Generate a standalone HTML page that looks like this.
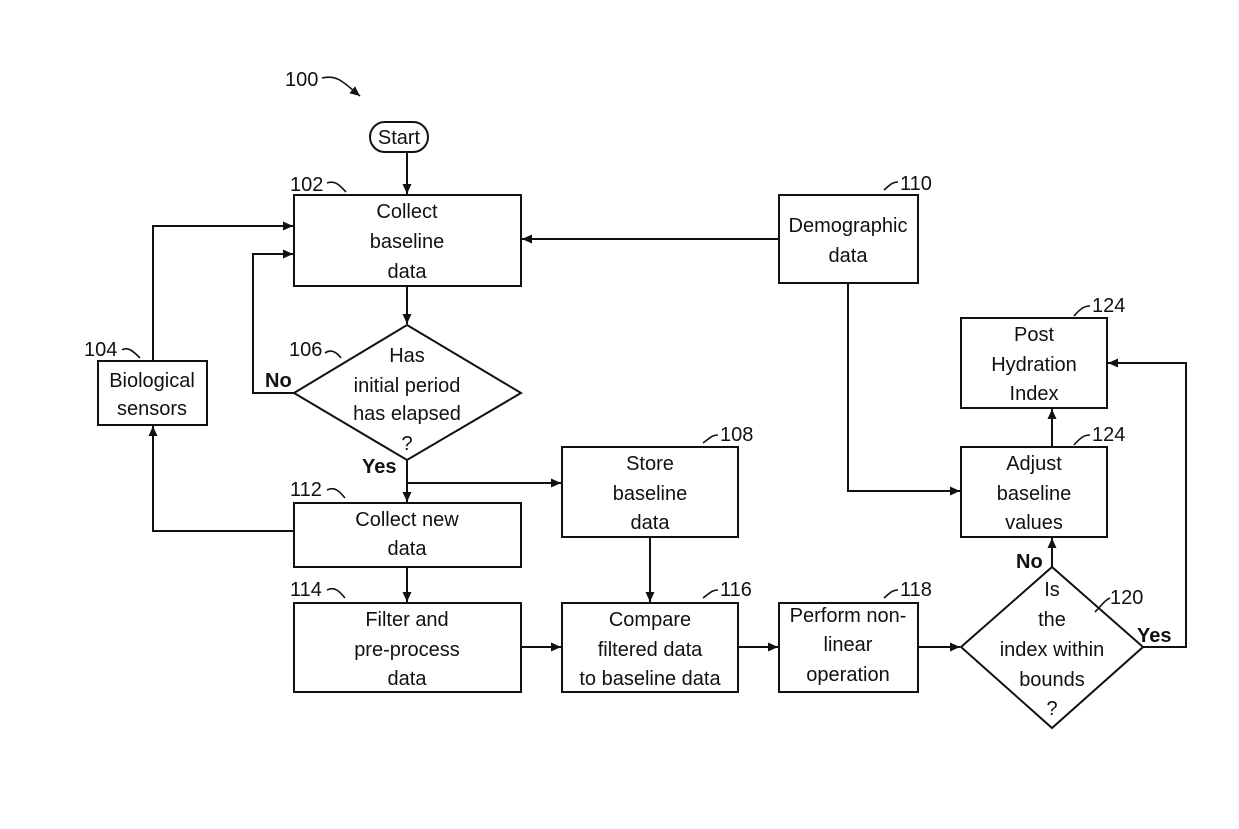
<!DOCTYPE html>
<html><head><meta charset="utf-8"><style>
html,body{margin:0;padding:0;background:#fff;}
svg{display:block;}
text{font-family:"Liberation Sans",Arial,sans-serif;font-size:20px;fill:#111;}
.b{font-weight:bold;}
</style></head><body>
<svg width="1239" height="829" viewBox="0 0 1239 829" xmlns="http://www.w3.org/2000/svg">
<defs>
<marker id="a" markerWidth="12" markerHeight="12" refX="10" refY="5.5" orient="auto" markerUnits="userSpaceOnUse">
<path d="M0,1 L10,5.5 L0,10 Z" fill="#111"/></marker>
</defs>
<g fill="none" stroke="#111" stroke-width="2">
<rect x="370" y="122" width="58" height="30" rx="15"/>
<rect x="294" y="195" width="227" height="91"/>
<rect x="779" y="195" width="139" height="88"/>
<polygon points="407,325 521,393 407,460 294,393"/>
<rect x="98" y="361" width="109" height="64"/>
<rect x="562" y="447" width="176" height="90"/>
<rect x="294" y="503" width="227" height="64"/>
<rect x="294" y="603" width="227" height="89"/>
<rect x="562" y="603" width="176" height="89"/>
<rect x="779" y="603" width="139" height="89"/>
<polygon points="1052,567 1143,647 1052,728 961,647"/>
<rect x="961" y="447" width="146" height="90"/>
<rect x="961" y="318" width="146" height="90"/>
<path d="M407,152 V194" marker-end="url(#a)"/>
<path d="M779,239 H522" marker-end="url(#a)"/>
<path d="M407,286 V324" marker-end="url(#a)"/>
<path d="M294,393 H253 V254 H293" marker-end="url(#a)"/>
<path d="M407,460 V502" marker-end="url(#a)"/>
<path d="M407,483 H561" marker-end="url(#a)"/>
<path d="M294,531 H153 V426" marker-end="url(#a)"/>
<path d="M153,361 V226 H293" marker-end="url(#a)"/>
<path d="M407,567 V602" marker-end="url(#a)"/>
<path d="M521,647 H561" marker-end="url(#a)"/>
<path d="M650,537 V602" marker-end="url(#a)"/>
<path d="M738,647 H778" marker-end="url(#a)"/>
<path d="M918,647 H960" marker-end="url(#a)"/>
<path d="M1052,567 V538" marker-end="url(#a)"/>
<path d="M1052,447 V409" marker-end="url(#a)"/>
<path d="M1143,647 H1186 V363 H1108" marker-end="url(#a)"/>
<path d="M848,283 V491 H960" marker-end="url(#a)"/>
</g>
<g fill="none" stroke="#111" stroke-width="1.6">
<path d="M322,78 C338,74 345,84 360,96" marker-end="url(#a)"/>
<path d="M327,183 C336,180 340,186 346,192"/>
<path d="M884,190 C890,185 892,182 898,182"/>
<path d="M325,353 C332,348 338,354 341,358"/>
<path d="M122,350 C128,346 134,352 140,358"/>
<path d="M703,443 C710,438 712,435 718,435"/>
<path d="M327,490 C335,486 340,492 345,498"/>
<path d="M327,590 C335,586 340,592 345,598"/>
<path d="M703,598 C710,593 712,590 718,590"/>
<path d="M884,598 C890,593 892,590 898,590"/>
<path d="M1095,612 C1102,605 1105,600 1110,598"/>
<path d="M1074,445 C1080,438 1084,435 1090,435"/>
<path d="M1074,316 C1080,309 1084,306 1090,306"/>
</g>
<g text-anchor="middle">
<text x="399" y="144">Start</text>
<text x="407" y="218">Collect</text>
<text x="407" y="248">baseline</text>
<text x="407" y="278">data</text>
<text x="848" y="232">Demographic</text>
<text x="848" y="262">data</text>
<text x="407" y="362">Has</text>
<text x="407" y="392">initial period</text>
<text x="407" y="420">has elapsed</text>
<text x="407" y="450">?</text>
<text x="152" y="387">Biological</text>
<text x="152" y="415">sensors</text>
<text x="650" y="470">Store</text>
<text x="650" y="500">baseline</text>
<text x="650" y="529">data</text>
<text x="407" y="526">Collect new</text>
<text x="407" y="555">data</text>
<text x="407" y="626">Filter and</text>
<text x="407" y="656">pre-process</text>
<text x="407" y="685">data</text>
<text x="650" y="626">Compare</text>
<text x="650" y="656">filtered data</text>
<text x="650" y="685">to baseline data</text>
<text x="848" y="622">Perform non-</text>
<text x="848" y="651">linear</text>
<text x="848" y="681">operation</text>
<text x="1052" y="596">Is</text>
<text x="1052" y="626">the</text>
<text x="1052" y="656">index within</text>
<text x="1052" y="686">bounds</text>
<text x="1052" y="715">?</text>
<text x="1034" y="470">Adjust</text>
<text x="1034" y="500">baseline</text>
<text x="1034" y="529">values</text>
<text x="1034" y="341">Post</text>
<text x="1034" y="371">Hydration</text>
<text x="1034" y="400">Index</text>
</g>
<text x="285" y="86">100</text>
<text x="290" y="191">102</text>
<text x="900" y="190">110</text>
<text x="289" y="356">106</text>
<text x="84" y="356">104</text>
<text x="720" y="441">108</text>
<text x="290" y="496">112</text>
<text x="290" y="596">114</text>
<text x="720" y="596">116</text>
<text x="900" y="596">118</text>
<text x="1110" y="604">120</text>
<text x="1092" y="441">124</text>
<text x="1092" y="312">124</text>
<text class="b" x="265" y="387">No</text>
<text class="b" x="362" y="473">Yes</text>
<text class="b" x="1016" y="568">No</text>
<text class="b" x="1137" y="642">Yes</text>
</svg>
</body></html>
